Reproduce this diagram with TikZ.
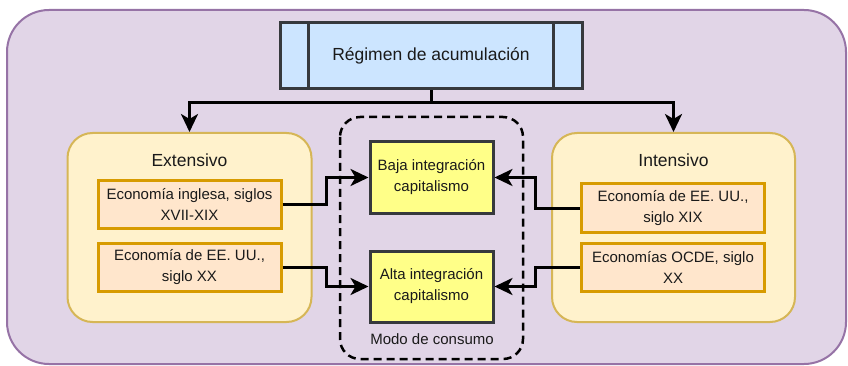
\documentclass[tikz,border=0pt]{standalone}
\usepackage{fontspec}
\setmainfont{Liberation Sans}
\usetikzlibrary{arrows.meta}
\definecolor{panelfill}{HTML}{E1D5E7}
\definecolor{paneldraw}{HTML}{9673A6}
\definecolor{groupfill}{HTML}{FFF2CC}
\definecolor{groupdraw}{HTML}{D6B656}
\definecolor{itemfill}{HTML}{FFE6CC}
\definecolor{itemdraw}{HTML}{D79B00}
\definecolor{procfill}{HTML}{CCE5FF}
\definecolor{darkline}{HTML}{36393D}
\definecolor{resfill}{HTML}{FFFF88}
\definecolor{ink}{HTML}{1A1A1A}
\tikzset{
  group/.style={draw=groupdraw, fill=groupfill, line width=2pt, rounded corners=25pt},
  item/.style={draw=itemdraw, fill=itemfill, line width=3pt, minimum width=183pt, minimum height=48pt,
    align=center, text=ink, font=\fontsize{15}{21}\selectfont, inner sep=0pt},
  result/.style={draw=darkline, fill=resfill, line width=3pt, minimum width=123pt, minimum height=71pt,
    align=center, text=ink, font=\fontsize{15}{21}\selectfont, inner sep=0pt},
  label/.style={text=ink, font=\fontsize{17.5}{21}\selectfont, inner sep=0pt},
  conn/.style={line width=3pt, -{Stealth[length=18pt,width=17pt,inset=5pt]}},
}
\begin{document}
\begin{tikzpicture}[x=1pt,y=-1pt]
\useasboundingbox (0,0) rectangle (848,366);
% background panel
\draw[fill=panelfill, draw=paneldraw, line width=2pt, rounded corners=42pt] (7,10) rectangle (846,364);

% accumulation regime (process box)
\node[draw=darkline, fill=procfill, line width=3pt, minimum width=302pt, minimum height=66pt,
      text=ink, font=\fontsize{17.5}{21}\selectfont, inner sep=0pt] (reg) at (431,56) {Régimen de acumulación};
\draw[darkline, line width=3pt] ([xshift=30pt]reg.north west) -- ([xshift=30pt]reg.south west);
\draw[darkline, line width=3pt] ([xshift=-30pt]reg.north east) -- ([xshift=-30pt]reg.south east);

% groups
\node[group, minimum width=244pt, minimum height=189pt] (ext) at (189.5,227.5) {};
\node[group, minimum width=243pt, minimum height=189pt] (int) at (673.5,227.5) {};
\node[label] (extl) at (189.5,160) {Extensivo};
\node[label] (intl) at (673.5,160) {Intensivo};

% consumption mode
\draw[line width=2.5pt, dash pattern=on 8pt off 5pt, rounded corners=20pt] (340,117) rectangle (523,359);
\node[text=ink, font=\fontsize{15}{18}\selectfont, inner sep=0pt] (modo) at (432,339) {Modo de consumo};

% items
\node[item] (e1) at (189.5,204.5) {Economía inglesa, siglos\\XVII-XIX};
\node[item] (e2) at (189.5,267) {Economía de EE. UU.,\\siglo XX};
\node[item] (i1) at (673,208) {Economía de EE. UU.,\\siglo XIX};
\node[item] (i2) at (673,267) {Economías OCDE, siglo\\XX};

\node[result] (baja) at (431.5,177.5) {Baja integración\\capitalismo};
\node[result] (alta) at (431.5,286.5) {Alta integración\\capitalismo};

% connectors
\coordinate (split) at (431,103);
\draw[conn] (reg.south) -- (split) -| (ext.north);
\draw[conn] (split) -| (int.north);
\draw[conn] (e1.east) -- ++(44,0) |- (baja.west);
\draw[conn] (e2.east) -- ++(44,0) |- (alta.west);
\draw[conn] (i1.west) -- ++(-45,0) |- (baja.east);
\draw[conn] (i2.west) -- ++(-45,0) |- (alta.east);
\end{tikzpicture}
\end{document}
